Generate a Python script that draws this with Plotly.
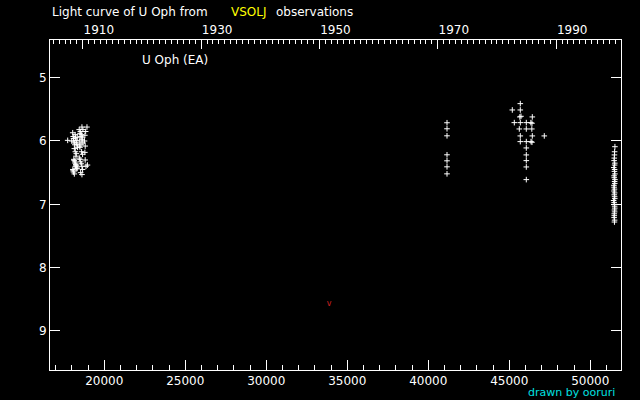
import datetime
import plotly.graph_objects as go

# ---- data (JD - 2400000, visual magnitude) ----
jd_obs = (
    [17740, 17990, 18050, 18080, 18100, 18120, 18150, 18180, 18200, 18230,
     18260, 18290, 18320, 18350, 18150, 18210, 18270, 18330, 18120, 18180,
     18240, 18300, 18060, 18100, 18140, 18200, 18260, 18320, 18080, 18150,
     18220, 18300, 18250,
     18450, 18500, 18560, 18620, 18680, 18460, 18520, 18580, 18640, 18480,
     18560, 18620, 18680, 18500, 18600, 18660, 18460, 18540, 18620, 18500,
     18580, 18660, 18540, 18620,
     18930, 18850, 18800, 18780, 18820, 18800, 18870, 18960, 18820]
    + [41154, 41154, 41154, 41154, 41154, 41154, 41154]
    + [45679, 45185, 45679, 45650, 45720, 46420, 45309, 45679, 46049, 46330,
       46400, 45617, 46049, 46390, 45679, 46420, 47160, 45679, 46049, 46340,
       46400, 46049, 46049, 46049, 46049, 46049]
    + [51520, 51500, 51490, 51480, 51470, 51510, 51500, 51450, 51500, 51490,
       51520, 51470, 51480, 51520, 51500, 51510, 51460, 51470, 51490, 51460,
       51500, 51480, 51500, 51510, 51440, 51470, 51490, 51500, 51510, 51490,
       51500, 51480, 51480, 51470, 51500, 51490]
)
mag_obs = (
    [5.99, 6.00, 5.87, 5.93, 5.96, 6.00, 6.03, 6.06, 5.90, 5.95,
     5.99, 6.03, 6.06, 6.10, 6.12, 6.17, 6.20, 5.94, 6.29, 6.33,
     6.37, 6.41, 6.45, 6.49, 6.31, 6.35, 6.39, 6.43, 6.47, 6.52,
     6.40, 6.44, 6.24,
     5.82, 5.88, 5.93, 5.98, 6.03, 6.08, 5.85, 5.90, 5.95, 6.00,
     6.05, 5.78, 5.82, 6.10, 6.17, 6.21, 6.27, 6.33, 6.40, 6.29,
     6.36, 6.45, 6.50, 6.53,
     5.78, 5.85, 5.91, 6.00, 6.08, 6.18, 6.40, 6.38, 6.30]
    + [5.712, 5.807, 5.918, 6.218, 6.313, 6.408, 6.519]
    + [5.41, 5.51, 5.51, 5.62, 5.61, 5.62, 5.71, 5.71, 5.71, 5.71,
       5.72, 5.81, 5.81, 5.81, 5.92, 5.92, 5.92, 6.01, 6.01, 6.01,
       6.02, 6.11, 6.22, 6.31, 6.41, 6.61]
    + [6.09, 6.17, 6.22, 6.27, 6.31, 6.35, 6.38, 6.42, 6.45, 6.48,
       6.52, 6.55, 6.58, 6.61, 6.64, 6.67, 6.70, 6.73, 6.76, 6.79,
       6.82, 6.85, 6.88, 6.91, 6.94, 6.97, 7.00, 7.03, 7.06, 7.09,
       7.12, 7.15, 7.18, 7.21, 7.25, 7.28]
)
# fainter-than observation
jd_faint = [33870]
mag_faint = [8.57]

year_major = [1910, 1920, 1930, 1940, 1950, 1960, 1970, 1980, 1990]
year_labels = ["1910", "", "1930", "", "1950", "", "1970", "", "1990"]
year_minor = list(range(1900, 2001))

x_range = [16648, 51895]
y_range = [9.617, 4.405]


def year_to_jd(y):
    mjd = (datetime.date(y, 1, 1) - datetime.date(1858, 11, 17)).days
    return mjd + 0.5


font = dict(family="DejaVu Sans", size=12, color="white")

fig = go.Figure()
fig.add_trace(go.Scatter(
    x=jd_obs, y=mag_obs, mode="markers",
    marker=dict(symbol="cross-thin-open", size=4, color="white",
                line=dict(color="white", width=1)),
    showlegend=False, hoverinfo="skip"))
fig.add_trace(go.Scatter(
    x=jd_faint, y=mag_faint, mode="text", text=["v"],
    textfont=dict(family="DejaVu Sans", size=8, color="#d02020"),
    showlegend=False, hoverinfo="skip"))
fig.add_trace(go.Scatter(
    x=x_range, y=[5, 5], xaxis="x2", mode="none",
    showlegend=False, hoverinfo="skip"))

axis_common = dict(showgrid=False, zeroline=False, showline=True,
                   linecolor="white", linewidth=1, ticks="inside",
                   tickcolor="white", tickfont=font, automargin=False)

fig.update_layout(
    width=640, height=400,
    paper_bgcolor="black", plot_bgcolor="black",
    margin=dict(l=50, r=19, t=40, b=30),
    font=font,
    xaxis=dict(range=x_range, tick0=0, dtick=5000, ticklen=10,
               tickformat="d",
               minor=dict(dtick=1000, tick0=0, ticklen=5, ticks="inside",
                          tickcolor="white"),
               **axis_common),
    xaxis2=dict(range=x_range, overlaying="x", side="top", anchor="y",
                tickmode="array",
                tickvals=[year_to_jd(y) for y in year_major],
                ticktext=year_labels, ticklen=9, ticklabelshift=16,
                minor=dict(tickmode="array",
                           tickvals=[year_to_jd(y) for y in year_minor],
                           ticklen=4, ticks="inside", tickcolor="white"),
                **axis_common),
    yaxis=dict(range=y_range, dtick=1, ticklen=10, mirror="ticks",
               **axis_common),
    annotations=[
        dict(xref="paper", yref="paper", x=0.0, y=1.085, xanchor="left",
             yanchor="middle", showarrow=False,
             text="Light curve of U Oph from", font=font),
        dict(xref="paper", yref="paper", x=0.3135, y=1.085, xanchor="left",
             yanchor="middle", showarrow=False, text="VSOLJ",
             font=dict(family="DejaVu Sans", size=12, color="#ffff00")),
        dict(xref="paper", yref="paper", x=0.3923, y=1.085, xanchor="left",
             yanchor="middle", showarrow=False, text="observations",
             font=font),
        dict(xref="paper", yref="paper", x=0.1576, y=0.939, xanchor="left",
             yanchor="middle", showarrow=False, text="U Oph (EA)",
             font=font),
        dict(xref="paper", yref="paper", x=0.993, y=-0.0667,
             xanchor="right", yanchor="middle", showarrow=False,
             text="drawn by ooruri",
             font=dict(family="DejaVu Sans", size=11, color="#00e0e0")),
    ],
)

fig.write_html("out.html",
               config={"displayModeBar": False},
               post_script="document.body.style.margin='0';"
                           "document.body.style.padding='0';")
